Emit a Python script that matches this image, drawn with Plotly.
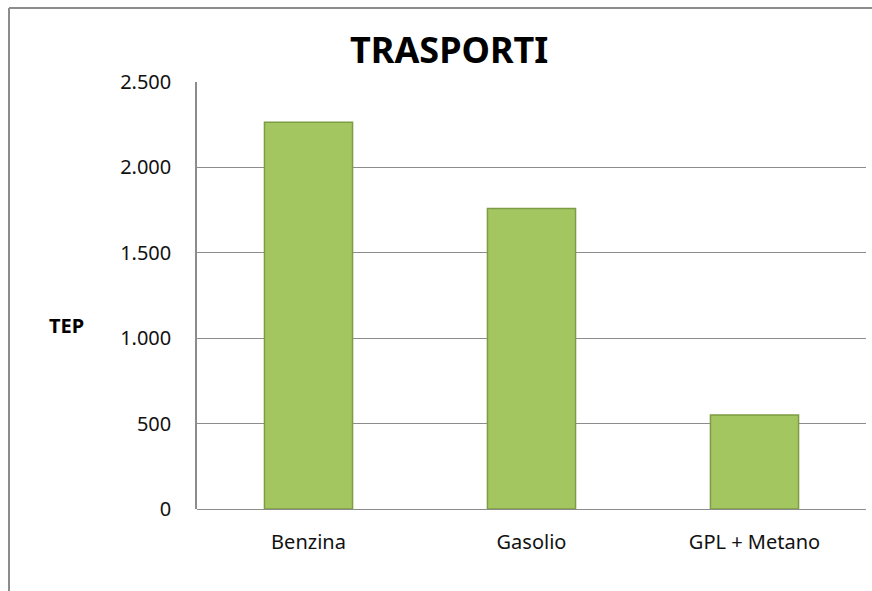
import plotly.graph_objects as go

categories = ["Benzina", "Gasolio", "GPL + Metano"]
values = [2265, 1760, 550]
y_ticks = [0, 500, 1000, 1500, 2000, 2500]
y_ticklabels = ["0", "500", "1.000", "1.500", "2.000", "2.500"]

FONT = "Noto Sans, Open Sans, sans-serif"

fig = go.Figure()
fig.add_trace(go.Bar(
    x=categories, y=values,
    marker=dict(color="#A3C661", line=dict(color="#7E9C43", width=1.5)),
    width=0.395,
))

W, H = 872, 591
L, R, T, B = 197, 6, 82, 82
pw, ph = W - L - R, H - T - B

def px(x):
    return (x - L) / pw

def py(y):
    return (H - B - y) / ph

border = dict(color="#8C8C8C", width=2)

fig.update_layout(
    width=W, height=H,
    margin=dict(l=L, r=R, t=T, b=B),
    paper_bgcolor="white", plot_bgcolor="white",
    showlegend=False,
    font=dict(family=FONT, color="#111111"),
    xaxis=dict(showgrid=False, showline=False, ticks="",
               tickfont=dict(size=20, family=FONT), ticklabelstandoff=19),
    yaxis=dict(range=[0, 2500], tickvals=y_ticks, ticktext=y_ticklabels,
               showgrid=True, gridcolor="#8C8C8C", gridwidth=1,
               zeroline=True, zerolinecolor="#8C8C8C", zerolinewidth=1,
               showline=True, linecolor="#8C8C8C", linewidth=1.5,
               ticks="", tickfont=dict(size=20, family=FONT), ticklabelstandoff=20),
    annotations=[
        dict(text="<b>TRASPORTI</b>", x=px(449), y=py(50), xref="paper", yref="paper",
             xanchor="center", yanchor="middle",
             showarrow=False, font=dict(size=36, family=FONT, color="#000000")),
        dict(text="<b>TEP</b>", x=px(66), y=py(325), xref="paper", yref="paper",
             xanchor="center", yanchor="middle",
             showarrow=False, font=dict(size=20, family=FONT, color="#000000")),
    ],
    shapes=[
        dict(type="line", xref="paper", yref="paper",
             x0=px(9), y0=py(620), x1=px(9), y1=py(8), line=border, layer="below"),
        dict(type="line", xref="paper", yref="paper",
             x0=px(9), y0=py(8), x1=px(900), y1=py(8), line=border, layer="below"),
    ],
)

fig.write_html(
    "out.html",
    config={"displayModeBar": False},
    post_script="document.body.style.margin='0';document.body.style.overflow='hidden';",
)
